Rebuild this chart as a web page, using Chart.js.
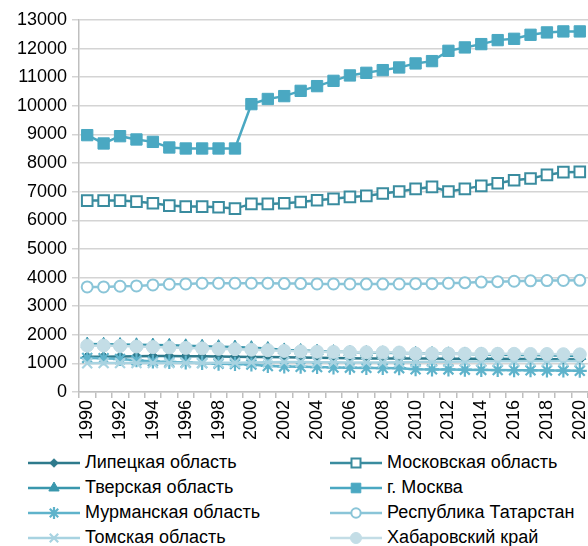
<!DOCTYPE html>
<html>
<head>
<meta charset="utf-8">
<script src="https://cdn.jsdelivr.net/npm/chart.js@4/dist/chart.umd.min.js"></script>
<style>
  html, body { margin: 0; padding: 0; background: #fff; }
  #wrap { position: relative; width: 588px; height: 546px; overflow: hidden; }
  #grafico { position: absolute; left: 0; top: 0; }
  #leyenda { font-family: "Liberation Sans", Arial, sans-serif; font-size: 18px; color: #000; }
  .item { position: absolute; height: 25px; display: flex; align-items: center; white-space: nowrap; }
  .item canvas { margin-right: 5px; }
</style>
</head>
<body>
<div id="wrap">
  <canvas id="grafico" width="588" height="448"></canvas>
  <div id="leyenda"></div>
</div>
<script>
const anios = [1990, 1991, 1992, 1993, 1994, 1995, 1996, 1997, 1998, 1999,
  2000, 2001, 2002, 2003, 2004, 2005, 2006, 2007, 2008, 2009,
  2010, 2011, 2012, 2013, 2014, 2015, 2016, 2017, 2018, 2019, 2020];

const lipetsk = [1230, 1235, 1240, 1250, 1255, 1255, 1250, 1245, 1240, 1235,
  1225, 1220, 1213, 1205, 1195, 1185, 1180, 1175, 1175, 1173,
  1173, 1170, 1165, 1160, 1160, 1158, 1156, 1150, 1146, 1143, 1139];
const moscowObl = [6689, 6689, 6689, 6654, 6598, 6514, 6479, 6479, 6458, 6409,
  6573, 6573, 6598, 6640, 6703, 6750, 6818, 6853, 6937, 7007,
  7098, 7168, 7007, 7098, 7203, 7297, 7402, 7461, 7587, 7682, 7692];
const tver = [1675, 1670, 1660, 1650, 1640, 1630, 1615, 1600, 1585, 1570,
  1550, 1520, 1471, 1450, 1430, 1410, 1395, 1380, 1370, 1360,
  1353, 1345, 1335, 1325, 1315, 1305, 1297, 1290, 1283, 1270, 1260];
const moscow = [8976, 8685, 8940, 8825, 8741, 8545, 8510, 8510, 8510, 8510,
  10060, 10240, 10340, 10524, 10689, 10874, 11063, 11154, 11248, 11342,
  11483, 11563, 11923, 12042, 12157, 12297, 12343, 12483, 12566, 12601, 12601];
const murmansk = [1190, 1180, 1150, 1110, 1070, 1050, 1030, 1010, 990, 975,
  960, 910, 893, 880, 870, 857, 850, 843, 837, 832,
  795, 790, 788, 780, 771, 766, 762, 757, 753, 748, 741];
const tatarstan = [3671, 3671, 3696, 3706, 3741, 3766, 3776, 3801, 3801, 3801,
  3801, 3801, 3788, 3788, 3776, 3776, 3776, 3770, 3770, 3775,
  3786, 3786, 3800, 3820, 3840, 3855, 3870, 3885, 3895, 3898, 3902];
const tomsk = [1005, 1010, 1010, 1010, 1010, 1010, 1010, 1015, 1020, 1025,
  1030, 1040, 1046, 1045, 1040, 1038, 1035, 1035, 1035, 1037,
  1047, 1053, 1058, 1062, 1067, 1074, 1077, 1079, 1078, 1079, 1078];
const khabarovsk = [1620, 1625, 1610, 1590, 1570, 1555, 1540, 1525, 1510, 1495,
  1480, 1460, 1436, 1420, 1410, 1400, 1395, 1390, 1385, 1380,
  1343, 1342, 1340, 1340, 1338, 1336, 1334, 1330, 1328, 1321, 1315];

const yTicks = [0, 1000, 2000, 3000, 4000, 5000, 6000, 7000, 8000, 9000, 10000, 11000, 12000, 13000];

const fuente = '"Liberation Sans", Arial, sans-serif';

const series = [
  { nombre: 'Липецкая область', datos: lipetsk, color: '#2E7A8C', estilo: 'rectRot', radio: 5, lleno: true },
  { nombre: 'Московская область', datos: moscowObl, color: '#3A8C9F', estilo: 'rect', radio: 7.5, lleno: false },
  { nombre: 'Тверская область', datos: tver, color: '#3A97AD', estilo: 'triangle', radio: 7, lleno: true },
  { nombre: 'г. Москва', datos: moscow, color: '#4AA8C2', estilo: 'rect', radio: 8, lleno: true },
  { nombre: 'Мурманская область', datos: murmansk, color: '#5FB3CB', estilo: 'star', radio: 7, lleno: true },
  { nombre: 'Республика Татарстан', datos: tatarstan, color: '#8AC5D8', estilo: 'circle', radio: 5.5, lleno: false },
  { nombre: 'Томская область', datos: tomsk, color: '#A8D3E1', estilo: 'crossRot', radio: 7, lleno: true },
  { nombre: 'Хабаровский край', datos: khabarovsk, color: '#C3DDE6', estilo: 'circle', radio: 6.5, lleno: true }
];

const datasets = series.map((s, i) => ({
  label: s.nombre,
  data: s.datos,
  borderColor: s.color,
  backgroundColor: s.color,
  borderWidth: 2.5,
  pointStyle: s.estilo,
  pointRadius: s.radio,
  pointBorderColor: s.color,
  pointBackgroundColor: s.lleno ? s.color : '#fff',
  pointBorderWidth: s.lleno ? 1 : 2,
  tension: 0,
  order: series.length - i
}));
// the star / cross markers need a thicker stroke
datasets[4].pointBorderWidth = 2.2;
datasets[6].pointBorderWidth = 2.2;

new Chart(document.getElementById('grafico').getContext('2d'), {
  type: 'line',
  data: { labels: anios, datasets: datasets },
  options: {
    responsive: false,
    animation: false,
    layout: { autoPadding: false, padding: { top: 20, left: 0, right: 0, bottom: 0 } },
    plugins: { legend: { display: false }, tooltip: { enabled: false } },
    scales: {
      x: {
        offset: true,
        grid: { offset: true, drawOnChartArea: false, tickLength: 6, color: '#BFBFBF', lineWidth: 1.5 },
        border: { color: '#BFBFBF', width: 1.5 },
        ticks: {
          autoSkip: false,
          minRotation: 90,
          maxRotation: 90,
          padding: 2,
          color: '#000',
          font: { family: fuente, size: 18 },
          callback: (v, i) => (i % 2 === 0 ? String(anios[i]) : '')
        },
        afterFit: (scale) => {
          scale.height = 56;
          // plot runs to the right edge like the original
          scale.paddingLeft = 0;
          scale.paddingRight = 0;
        }
      },
      y: {
        min: 0,
        max: 13000,
        afterBuildTicks: (scale) => { scale.ticks = yTicks.map(v => ({ value: v })); },
        grid: { color: '#D4D4D4', lineWidth: 1.5, tickLength: 7 },
        border: { color: '#BFBFBF', width: 1.5 },
        ticks: {
          padding: 5,
          color: '#000',
          font: { family: fuente, size: 18 },
          callback: (v) => String(v)
        },
        afterFit: (scale) => { scale.width = 79; }
      }
    }
  }
});

// legend in two columns
const leyenda = document.getElementById('leyenda');
series.forEach((s, i) => {
  const col = i % 2;
  const fila = Math.floor(i / 2);
  const item = document.createElement('div');
  item.className = 'item';
  item.style.left = (col === 0 ? 28 : 330) + 'px';
  item.style.top = (450 + fila * 25) + 'px';

  const c = document.createElement('canvas');
  c.width = 52;
  c.height = 18;
  const ctx = c.getContext('2d');
  ctx.strokeStyle = s.color;
  ctx.lineWidth = 2.5;
  ctx.beginPath();
  ctx.moveTo(0, 9);
  ctx.lineTo(52, 9);
  ctx.stroke();
  ctx.fillStyle = s.lleno ? s.color : '#fff';
  ctx.lineWidth = datasets[i].pointBorderWidth;
  Chart.helpers.drawPoint(ctx, {
    pointStyle: s.estilo,
    radius: s.radio * 0.85,
    rotation: 0,
    borderWidth: datasets[i].pointBorderWidth
  }, 26, 9);

  const t = document.createElement('span');
  t.textContent = s.nombre;
  item.appendChild(c);
  item.appendChild(t);
  leyenda.appendChild(item);
});
</script>
</body>
</html>
